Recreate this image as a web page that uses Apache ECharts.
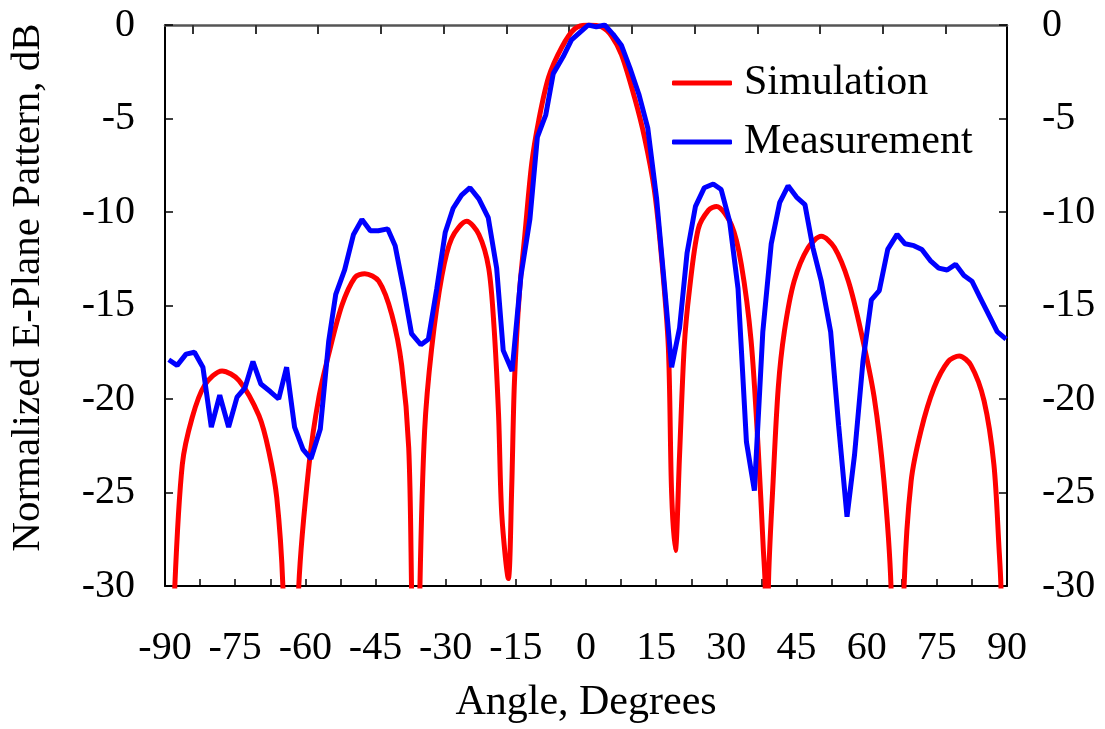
<!DOCTYPE html>
<html>
<head>
<meta charset="utf-8">
<script src="https://cdn.jsdelivr.net/npm/echarts@6/dist/echarts.min.js"></script>
<style>
html,body{margin:0;padding:0;background:#fff;}
#chart{width:1105px;height:729px;}
</style>
</head>
<body>
<div id="chart"></div>
<script>
// Simulation (red) – angles in degrees and normalized level in dB (values below -30 are clipped nulls)
const simAngle = [-90,-87.9,-86.3,-84.2,-81.5,-77.8,-74.2,-69.9,-67.8,-66.1,-64.8,-63.1,-61.4,-59.2,-57.1,-55.0,-52.2,-49.4,-47.3,-44.3,-41.5,-39.4,-37.9,-37.3,-36.4,-35.5,-34.5,-33.0,-30.8,-28.7,-25.5,-22.9,-20.8,-19.7,-18.7,-18.0,-16.6,-15.9,-15.3,-14.2,-13.1,-11.6,-10.1,-8.0,-5.2,-2.4,0.5,3.3,5.5,7.6,10.4,12.5,14.6,16.1,17.6,18.3,19.1,20.0,21.0,22.1,24.0,26.2,27.9,31.1,33.2,35.3,36.8,37.9,38.3,38.6,39.0,40.0,41.1,42.4,44.5,47.5,50.3,53.1,56.1,58.8,61.6,63.7,65.2,66.6,68.0,69.5,71.6,74.4,77.4,79.8,82.3,85.1,87.2,88.3,88.7,90];
const simDb    = [-45,-30,-23.5,-21.0,-19.25,-18.5,-19.0,-20.9,-22.8,-25.3,-30,-45,-30,-23.5,-19.9,-17.6,-15.0,-13.5,-13.3,-13.7,-15.5,-18.2,-22.6,-30,-45,-30,-21.7,-17.3,-13.4,-11.4,-10.5,-11.2,-13.0,-16.0,-20.8,-26.2,-29.6,-24.9,-19.1,-14.2,-11.3,-7.4,-5.1,-2.8,-1.2,-0.2,0,-0.1,-0.6,-1.6,-3.9,-6.0,-8.8,-12.3,-17.2,-25.0,-28.1,-23.0,-17.2,-14.2,-10.9,-9.9,-9.7,-10.7,-12.8,-16.9,-22.6,-28.0,-30,-45,-30,-24.4,-19.4,-16.4,-13.7,-11.9,-11.3,-11.9,-13.7,-16.4,-19.9,-24.4,-30,-45,-30,-24.4,-21.7,-19.4,-18.0,-17.7,-18.2,-20.1,-23.5,-28.0,-30,-45];

// Measurement (blue)
const measAngle = [-89.2,-87.4,-85.5,-83.7,-81.9,-80.1,-78.3,-76.4,-74.6,-72.9,-71.2,-69.5,-67.5,-65.7,-64.0,-62.3,-60.5,-58.8,-56.8,-55.0,-53.5,-51.6,-49.7,-47.9,-46.1,-44.4,-42.4,-40.8,-39.0,-37.3,-35.3,-33.7,-31.9,-30.1,-28.4,-26.6,-24.8,-22.9,-20.9,-19.1,-17.7,-15.8,-13.9,-12.0,-10.4,-8.6,-7.0,-4.9,-3.1,-1.3,0.5,2.2,4.0,5.8,7.6,9.4,11.3,13.2,15.1,16.8,18.3,20.0,21.6,23.4,25.3,27.2,28.9,30.7,32.5,34.3,36.0,37.8,39.6,41.4,43.2,45.0,46.8,48.5,50.3,52.3,54.0,55.8,57.4,59.2,61.0,62.7,64.5,66.5,68.2,70.1,71.8,73.6,75.4,77.2,79.0,80.8,82.5,84.3,86.3,87.9,89.8];
const measDb    = [-17.9,-18.2,-17.6,-17.5,-18.3,-21.5,-19.8,-21.5,-19.9,-19.4,-18.0,-19.2,-19.6,-20.0,-18.3,-21.5,-22.7,-23.2,-21.6,-16.9,-14.4,-13.1,-11.2,-10.4,-11.0,-11.0,-10.9,-11.8,-14.1,-16.5,-17.1,-16.8,-14.1,-11.1,-9.8,-9.1,-8.7,-9.3,-10.3,-13.0,-17.4,-18.5,-13.4,-10.4,-6.0,-4.8,-2.6,-1.7,-0.8,-0.4,0,-0.1,0,-0.5,-1.1,-2.3,-3.7,-5.5,-9.3,-14.0,-18.3,-16.2,-12.2,-9.7,-8.7,-8.5,-8.8,-10.5,-14.1,-22.3,-24.9,-16.4,-11.7,-9.5,-8.6,-9.2,-9.6,-11.9,-13.7,-16.4,-21.4,-26.3,-23.0,-18.0,-14.7,-14.2,-12.0,-11.2,-11.7,-11.8,-12.0,-12.6,-13.0,-13.1,-12.8,-13.4,-13.7,-14.6,-15.6,-16.4,-16.8];

// Axis tick definitions
const xMin = -90, xMax = 90, xStep = 15;
const yMin = -30, yMax = 0, yStep = 5;
const topTickCount = 12;            // intervals between the top-edge ticks
const seriesNames = ['Simulation', 'Measurement'];
const xTitle = 'Angle, Degrees';
const yTitle = 'Normalized E-Plane Pattern, dB';

const FONT = '"Liberation Serif", "Times New Roman", serif';
const zip = (a, b) => a.map((v, i) => [v, b[i]]);

const chart = echarts.init(document.getElementById('chart'), null, {renderer: 'canvas'});
const axisLine = {show: true, onZero: false, lineStyle: {color: '#000', width: 2}};
chart.setOption({
  animation: false,
  backgroundColor: '#fff',
  grid: [
    {left: 163, right: 98, top: 25, bottom: 141, containLabel: false},
    {left: 192.7, right: 159.3, top: 25, bottom: 141, containLabel: false}
  ],
  legend: {
    data: seriesNames,
    orient: 'vertical',
    left: 672,
    top: 62,
    padding: 0,
    itemWidth: 60,
    itemHeight: 5,
    itemGap: 17,
    icon: 'roundRect',
    textStyle: {fontFamily: FONT, fontSize: 42, color: '#000', padding: [0, 0, 0, 7]}
  },
  xAxis: [{
    gridIndex: 0, type: 'value', position: 'bottom', min: xMin, max: xMax, interval: xStep,
    axisLine: axisLine,
    axisTick: {show: true, inside: true, length: 7, lineStyle: {color: '#000', width: 1.5}},
    minorTick: {show: true, splitNumber: 2, length: 7, lineStyle: {color: '#000', width: 1.5}},
    splitLine: {show: false},
    axisLabel: {fontFamily: FONT, fontSize: 40, color: '#000', margin: 42},
    name: xTitle, nameLocation: 'middle', nameGap: 96,
    nameTextStyle: {fontFamily: FONT, fontSize: 42, color: '#000'}
  }, {
    gridIndex: 0, type: 'value', position: 'top', min: xMin, max: xMax,
    axisLine: {show: true, onZero: false, lineStyle: {color: '#555', width: 2.5}},
    axisTick: {show: false},
    axisLabel: {show: false},
    splitLine: {show: false}
  }, {
    gridIndex: 1, type: 'value', position: 'top', min: 0, max: topTickCount, interval: 1,
    axisLine: {show: false, onZero: false},
    axisTick: {show: true, inside: true, length: 9, lineStyle: {color: '#333', width: 2}},
    axisLabel: {show: false},
    splitLine: {show: false}
  }],
  yAxis: [{
    gridIndex: 0, type: 'value', position: 'left', min: yMin, max: yMax, interval: yStep,
    axisLine: axisLine,
    axisTick: {show: true, inside: true, length: 8, lineStyle: {color: '#000', width: 1.5}},
    splitLine: {show: false},
    axisLabel: {fontFamily: FONT, fontSize: 40, color: '#000', margin: 30},
    name: yTitle, nameLocation: 'middle', nameGap: 116, nameRotate: 90,
    nameTextStyle: {fontFamily: FONT, fontSize: 41, color: '#000', padding: [0, 0, 0, 36]}
  }, {
    gridIndex: 0, type: 'value', position: 'right', min: yMin, max: yMax, interval: yStep,
    axisLine: axisLine,
    axisTick: {show: true, inside: true, length: 8, lineStyle: {color: '#000', width: 1.5}},
    splitLine: {show: false},
    axisLabel: {fontFamily: FONT, fontSize: 40, color: '#000', margin: 35}
  }, {
    gridIndex: 1, type: 'value', min: 0, max: 1, show: false
  }],
  series: [{
    name: seriesNames[0], type: 'line', xAxisIndex: 0, yAxisIndex: 0,
    data: zip(simAngle, simDb), symbol: 'none', smooth: 0.3, clip: true,
    lineStyle: {color: '#ff0000', width: 5}, itemStyle: {color: '#ff0000'}, z: 2
  }, {
    name: seriesNames[1], type: 'line', xAxisIndex: 0, yAxisIndex: 0,
    data: zip(measAngle, measDb), symbol: 'none', clip: true,
    lineStyle: {color: '#0000ff', width: 5}, itemStyle: {color: '#0000ff'}, z: 3
  }]
});
</script>
</body>
</html>
